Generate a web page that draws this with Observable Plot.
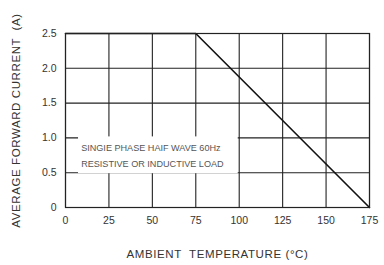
<!DOCTYPE html>
<html>
<head>
<meta charset="utf-8">
<script src="https://cdn.jsdelivr.net/npm/d3@7"></script>
<script src="https://cdn.jsdelivr.net/npm/@observablehq/plot@0.6"></script>
<style>
  html, body { margin: 0; padding: 0; background: #fff; }
  #chart svg { display: block; }
</style>
</head>
<body>
<div id="chart"></div>
<script>
// Data
const temperature = [0, 75, 175];
const current = [2.5, 2.5, 0];
const xTicks = [0, 25, 50, 75, 100, 125, 150, 175];
const yTicks = [0, 0.5, 1.0, 1.5, 2.0, 2.5];
const yTickLabels = ["0", "0.5", "1.0", "1.5", "2.0", "2.5"];
const noteLines = ["SINGIE PHASE HAIF WAVE 60Hz", "RESISTIVE OR INDUCTIVE LOAD"];
const noteBox = [{x1: 7.5, x2: 100, y1: 0.5, y2: 1.0}];
const noteAnchorX = [9];
const noteAnchorY = [0.86, 0.63];

const derating = temperature.map((t, i) => ({t, a: current[i]}));
const notes = noteLines.map((s, i) => ({s, x: noteAnchorX[0], y: noteAnchorY[i]}));

const chart = Plot.plot({
  width: 384,
  height: 265,
  marginLeft: 65,
  marginRight: 15,
  marginTop: 33,
  marginBottom: 58,
  style: {fontFamily: "Liberation Sans, Arial, sans-serif", fontSize: "10.5px", color: "#333", background: "#fff"},
  x: {domain: [0, 175], ticks: xTicks, tickSize: 0, tickPadding: 9,
      label: "AMBIENT  TEMPERATURE (°C)", labelAnchor: "center", labelOffset: 50, labelArrow: "none"},
  y: {domain: [0, 2.5], ticks: yTicks, tickSize: 0, tickPadding: 9,
      tickFormat: d => yTickLabels[yTicks.indexOf(d)],
      label: "AVERAGE FORWARD CURRENT  (A)", labelAnchor: "center", labelOffset: 54, labelArrow: "none"},
  marks: [
    Plot.ruleX(xTicks, {stroke: "#222", strokeWidth: 1.1}),
    Plot.ruleY(yTicks, {stroke: "#222", strokeWidth: 1.1}),
    Plot.rect(noteBox, {x1: "x1", x2: "x2", y1: "y1", y2: "y2", fill: "#fff",
      insetTop: -1, insetBottom: -1, insetRight: 1}),
    Plot.text(notes, {x: "x", y: "y", text: "s", textAnchor: "start", fill: "#555", fontSize: 9.1}),
    Plot.line(derating, {x: "t", y: "a", stroke: "#111", strokeWidth: 1.6}),
    Plot.frame({stroke: "#222", strokeWidth: 1.2})
  ]
});
document.getElementById("chart").appendChild(chart);
d3.select(chart).selectAll("[aria-label='x-axis label'] text, [aria-label='y-axis label'] text")
  .style("font-size", "11.5px").style("fill", "#333").style("letter-spacing", "0.6px");
</script>
</body>
</html>
